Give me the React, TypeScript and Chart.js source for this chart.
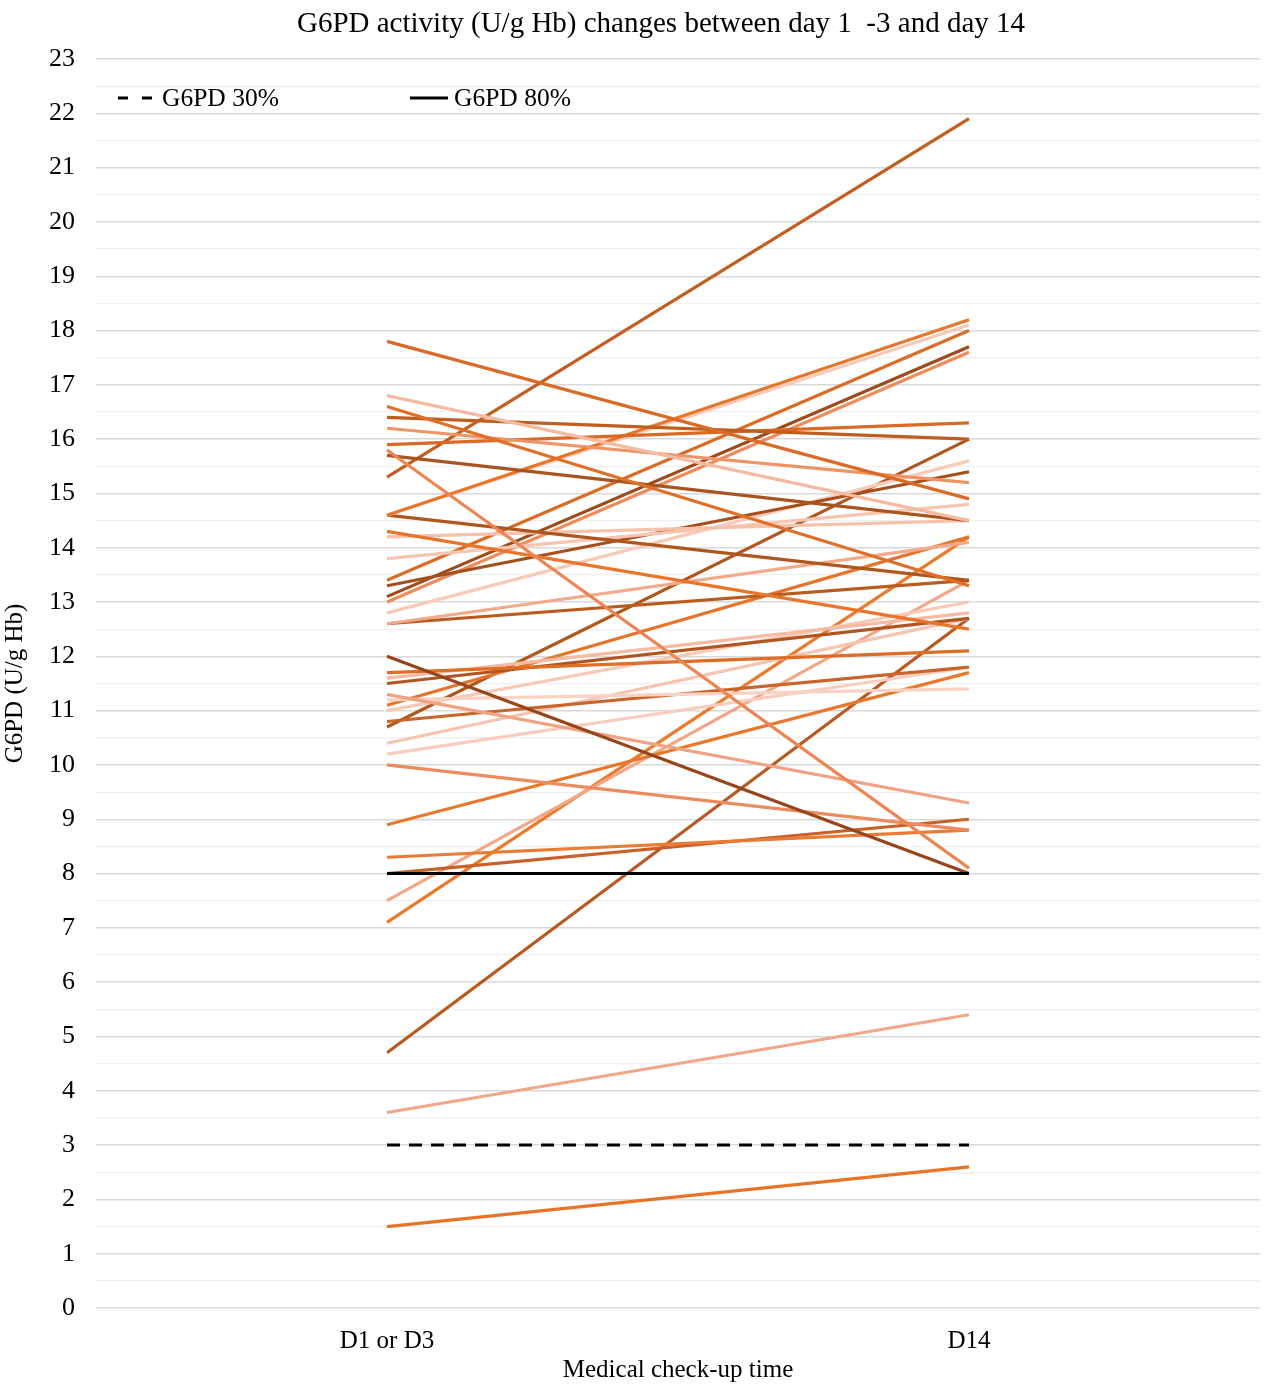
import React, { useEffect, useRef } from "react";
import { Chart, registerables } from "chart.js";

Chart.register(...registerables);

const chartTitle = "G6PD activity (U/g Hb) changes between day 1  -3 and day 14";
const xAxisTitle = "Medical check-up time";
const yAxisTitle = "G6PD (U/g Hb)";
const categories = ["D1 or D3", "D14"];

const yMin = 0;
const yMax = 23;
const yStep = 0.5;

// Individual patients: value at D1/D3 and at D14
const d1Values = [
  17.8, 16.8, 16.6, 16.4, 16.2, 15.9, 15.8, 15.7, 15.3, 14.6, 14.6, 14.6, 14.3, 14.2, 13.8,
  13.4, 13.3, 13.1, 13.0, 12.8, 12.6, 12.6, 12.0, 11.7, 11.6, 11.5, 11.3, 11.2, 11.1, 11.0,
  10.8, 10.7, 10.4, 10.2, 10.0, 8.9, 8.3, 8.0, 7.5, 7.1, 4.7, 3.6, 1.5,
];
const d14Values = [
  14.9, 14.5, 13.3, 16.0, 15.2, 16.3, 8.1, 14.5, 21.9, 18.2, 18.1, 13.4, 12.5, 14.5, 14.8,
  18.0, 15.4, 17.7, 17.6, 15.6, 14.1, 13.4, 8.0, 12.1, 12.8, 12.7, 9.3, 11.4, 14.2, 13.0,
  11.8, 16.0, 12.7, 11.8, 8.8, 11.7, 8.8, 9.0, 13.4, 14.2, 12.7, 5.4, 2.6,
];
const lineColors = [
  "#D86B28", "#F5BBA2", "#E06F28", "#C05E20", "#EE9466", "#D96A25", "#EC8654", "#A9531E",
  "#C25E20", "#E8772C", "#F8CBB8", "#AE561F", "#E8752B", "#F6C2AC", "#F7C5B0", "#DB6C26",
  "#A44F1C", "#9E4B1B", "#EF8C5C", "#F8CAB7", "#F2AA8A", "#BA5B20", "#97451A", "#DE6D25",
  "#F5BBA3", "#AF551F", "#F1A282", "#F9D2C3", "#E5752D", "#F8C9B6", "#C9642A", "#B0561F",
  "#F6C4B1", "#F8CDBD", "#EC8B5D", "#E8782E", "#E97C35", "#C8622A", "#F3A788", "#EC7A2C",
  "#B85A20", "#F2A78A", "#E8742A",
];

// Reference thresholds
const refLabels = ["G6PD 30%", "G6PD 80%"];
const refValues = [3, 8];
const refDashed = [true, false];

const FONT = '"Liberation Serif", "Times New Roman", serif';

const overlayPlugin = {
  id: "overlay",
  afterDraw(chart: any) {
    const { ctx, chartArea } = chart;
    ctx.save();
    ctx.fillStyle = "#000";
    ctx.textBaseline = "middle";
    ctx.textAlign = "center";
    ctx.font = `29px ${FONT}`;
    ctx.fillText(chartTitle, 661, 24);

    // legend inside the plot area
    const ly = chartArea.top + 39;
    const starts = [chartArea.left + 22, chartArea.left + 314];
    ctx.font = `25.5px ${FONT}`;
    ctx.textAlign = "left";
    chart.data.datasets.forEach((ds: any) => {
      if (ds.refIndex === undefined) return;
      const x0 = starts[ds.refIndex];
      ctx.beginPath();
      ctx.strokeStyle = "#000";
      ctx.lineWidth = 3;
      ctx.setLineDash(ds.borderDash && ds.borderDash.length ? [10, 14] : []);
      ctx.moveTo(x0, ly);
      ctx.lineTo(x0 + 38, ly);
      ctx.stroke();
      ctx.setLineDash([]);
      ctx.fillText(ds.label, x0 + 44, ly + 1);
    });
    ctx.restore();
  },
};

export default function App() {
  const canvasRef = useRef<HTMLCanvasElement | null>(null);

  useEffect(() => {
    if (!canvasRef.current) return;

    const refSets = refLabels.map((label, i) => ({
      label,
      data: [refValues[i], refValues[i]],
      borderColor: "#000",
      backgroundColor: "#000",
      borderWidth: 3,
      borderDash: refDashed[i] ? [13, 9] : [],
      pointRadius: 0,
      fill: false,
      order: 0,
      refIndex: i,
    }));

    const patientSets = d1Values.map((v, i) => ({
      label: `P${i + 1}`,
      data: [v, d14Values[i]],
      borderColor: lineColors[i],
      backgroundColor: lineColors[i],
      borderWidth: 3.2,
      pointRadius: 0,
      fill: false,
      order: 1,
    }));

    const chart = new Chart(canvasRef.current, {
      type: "line",
      data: { labels: categories, datasets: [...refSets, ...patientSets] as any },
      options: {
        animation: false,
        responsive: true,
        maintainAspectRatio: false,
        layout: { padding: { left: 0, right: 4, top: 59, bottom: 0 } },
        plugins: {
          legend: { display: false },
          title: { display: false },
          tooltip: { enabled: false },
        },
        scales: {
          x: {
            type: "category",
            offset: true,
            grid: { display: false },
            border: { display: false },
            ticks: { color: "#000", font: { family: FONT, size: 25 }, padding: 10 },
            title: {
              display: true,
              text: xAxisTitle,
              color: "#000",
              font: { family: FONT, size: 25 },
              padding: { top: 0, bottom: 2 },
            },
            afterFit: (scale: any) => {
              scale.height = 79;
            },
          },
          y: {
            min: yMin,
            max: yMax,
            grid: {
              drawTicks: false,
              color: (c: any) => (Number.isInteger(c.tick?.value) ? "#d9d9d9" : "#efefef"),
              lineWidth: (c: any) => (Number.isInteger(c.tick?.value) ? 1.4 : 1.2),
            },
            border: { display: false },
            ticks: {
              stepSize: yStep,
              autoSkip: false,
              color: "#000",
              padding: 21,
              font: { family: FONT, size: 26 },
              callback: (v: any) => (Number.isInteger(v) ? String(v) : ""),
            },
            title: {
              display: true,
              text: yAxisTitle,
              color: "#000",
              font: { family: FONT, size: 25 },
              padding: { top: 0, bottom: 8 },
            },
            afterFit: (scale: any) => {
              scale.width = 96;
            },
          },
        },
      },
      plugins: [overlayPlugin],
    });

    return () => chart.destroy();
  }, []);

  return (
    <div style={{ position: "absolute", left: 0, top: 0, width: 1264, height: 1387, background: "#fff" }}>
      <canvas ref={canvasRef} />
    </div>
  );
}
